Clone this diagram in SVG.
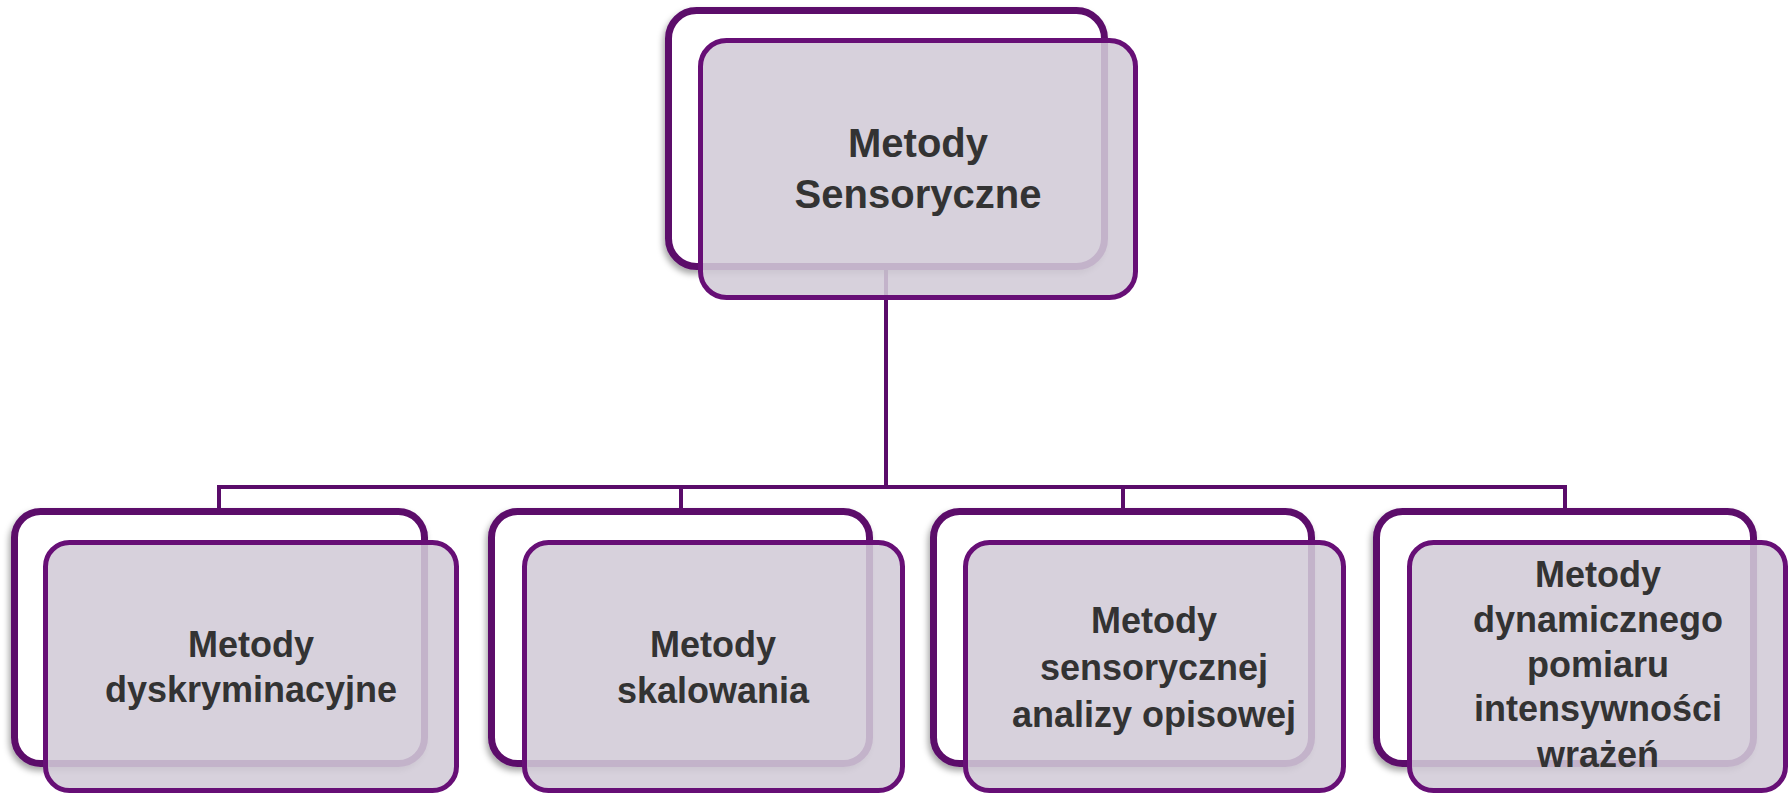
<svg xmlns="http://www.w3.org/2000/svg" width="1789" height="795" viewBox="0 0 1789 795">
<defs>
<filter id="sh" x="-10%" y="-10%" width="120%" height="125%">
<feDropShadow dx="-2" dy="4" stdDeviation="3" flood-color="#000" flood-opacity="0.35"/>
</filter>
<style>
.back{fill:#ffffff;stroke:#5c0b6b;stroke-width:7;filter:url(#sh)}
.front{fill:rgb(209,203,215);fill-opacity:0.88;stroke:#670f76;stroke-width:5}
.t{font-family:"Liberation Sans",Arial,sans-serif;font-weight:bold;fill:#333333;text-anchor:middle}
.tb{font-size:36px}
.tt{font-size:40px}
.c{stroke:#5a0c6a;stroke-width:4;fill:none}
</style>
</defs>
<g id="connectors">
<line class="c" x1="886" y1="266" x2="886" y2="487"/>
<line class="c" x1="217" y1="487" x2="1567" y2="487"/>
<line class="c" x1="219" y1="487" x2="219" y2="510"/>
<line class="c" x1="681" y1="487" x2="681" y2="510"/>
<line class="c" x1="1123" y1="487" x2="1123" y2="510"/>
<line class="c" x1="1565" y1="487" x2="1565" y2="510"/>
</g>
<g id="node-top">
<rect class="back" x="668.5" y="10.5" width="436" height="256" rx="28"/>
<rect class="front" x="700.5" y="40.5" width="435" height="257" rx="26"/>
<text class="t tt" x="918" y="157">Metody</text>
<text class="t tt" x="918" y="208">Sensoryczne</text>
</g>
<g id="node-1">
<rect class="back" x="14.5" y="511.5" width="410" height="252" rx="26"/>
<rect class="front" x="45.5" y="542.5" width="411" height="248" rx="24"/>
<text class="t tb" x="251" y="657">Metody</text>
<text class="t tb" x="251" y="702">dyskryminacyjne</text>
</g>
<g id="node-2">
<rect class="back" x="491.5" y="511.5" width="378" height="252" rx="26"/>
<rect class="front" x="524.5" y="542.5" width="378" height="248" rx="24"/>
<text class="t tb" x="713" y="657">Metody</text>
<text class="t tb" x="713" y="703">skalowania</text>
</g>
<g id="node-3">
<rect class="back" x="933.5" y="511.5" width="378" height="252" rx="26"/>
<rect class="front" x="965.5" y="542.5" width="378" height="248" rx="24"/>
<text class="t tb" x="1154" y="633">Metody</text>
<text class="t tb" x="1154" y="680">sensorycznej</text>
<text class="t tb" x="1154" y="727">analizy opisowej</text>
</g>
<g id="node-4">
<rect class="back" x="1376.5" y="511.5" width="377" height="252" rx="26"/>
<rect class="front" x="1409.5" y="542.5" width="376" height="248" rx="24"/>
<text class="t tb" x="1598" y="587">Metody</text>
<text class="t tb" x="1598" y="632">dynamicznego</text>
<text class="t tb" x="1598" y="677">pomiaru</text>
<text class="t tb" x="1598" y="721">intensywności</text>
<text class="t tb" x="1598" y="767">wrażeń</text>
</g>
</svg>
